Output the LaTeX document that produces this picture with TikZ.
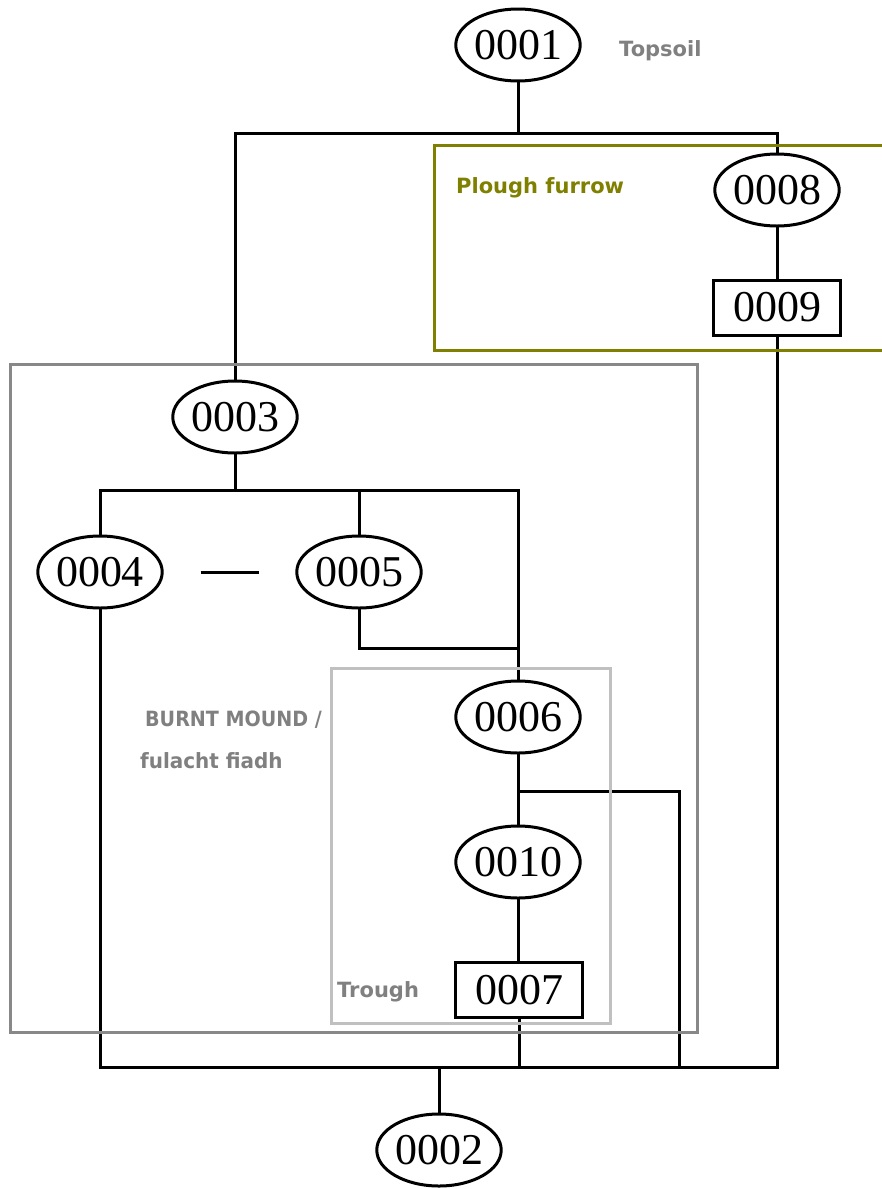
\documentclass[tikz,border=0pt]{standalone}
\usepackage{fontspec}
\setmainfont{Liberation Serif}
\newfontfamily\labfont{DejaVu Sans}
\usetikzlibrary{shapes.geometric}
\definecolor{olivebox}{RGB}{128,128,0}
\definecolor{labgray}{RGB}{128,128,128}
\definecolor{moundgray}{RGB}{136,136,136}
\definecolor{troughgray}{RGB}{192,192,192}
\begin{document}
\begin{tikzpicture}[x=1pt,y=-1pt,
  unitell/.style={draw, ellipse, line width=3pt, minimum width=120pt, minimum height=72pt, inner sep=0pt, font=\fontsize{44}{44}\selectfont},
  unitbox/.style={draw, rectangle, line width=3pt, minimum width=127pt, minimum height=55pt, inner sep=0pt, font=\fontsize{44}{44}\selectfont},
  conn/.style={line width=3pt, line cap=rect},
  grp/.style={line width=3pt},
  lab/.style={anchor=base west, inner sep=0pt, font=\labfont\bfseries\fontsize{21}{25}\selectfont}]
\fill[white] (0,0) rectangle (882,1189);
\useasboundingbox (0,0) rectangle (882,1189);

% units
\node[unitell] (n0001) at (518,45) {0001};
\node[unitell] (n0008) at (777,190) {0008};
\node[unitbox] (n0009) at (777,307.5) {0009};
\node[unitell] (n0003) at (235,417) {0003};
\node[unitell] (n0004) at (100,572) {0004};
\node[unitell] (n0005) at (359,572) {0005};
\node[unitell] (n0006) at (518,717) {0006};
\node[unitell] (n0010) at (518,862) {0010};
\node[unitbox] (n0007) at (519,990) {0007};
\node[unitell] (n0002) at (439,1150) {0002};

% junctions
\coordinate (j1) at (518,133);
\coordinate (j3) at (235,490);
\coordinate (j5) at (518,648);
\coordinate (j6) at (679,791);
\coordinate (jb) at (439,1067);

% connectors
\draw[conn] (n0001.south) -- (j1);
\draw[conn] (n0003.north) |- (j1) -| (n0008.north);
\draw[conn] (n0008.south) -- (n0009.north);
\draw[conn] (n0003.south) -- (j3);
\draw[conn] (n0004.north) |- (j3) -| (n0006.north);
\draw[conn] (n0005.north) -- (n0005.north |- j3);
\draw[conn] (n0005.south) |- (j5);
\draw[conn, line cap=butt, shorten <=37pt, shorten >=36pt] (n0004.east) -- (n0005.west);
\draw[conn] (n0006.south) -- (n0010.north);
\draw[conn] (n0006.south |- j6) -- (j6) -- (j6 |- jb);
\draw[conn] (n0010.south) -- (n0010.south |- n0007.north);
\draw[conn] (n0007.south) -- (n0007.south |- jb);
\draw[conn] (n0004.south) |- (n0009.south |- jb) -- (n0009.south);
\draw[conn] (n0002.north) -- (jb);

% group boxes
\draw[grp, olivebox] (890,145) -- (434,145) -- (434,350) -- (890,350);
\draw[grp, moundgray] (10,364) rectangle (697,1032);
\draw[grp, troughgray] (331,668) rectangle (610,1023);

% labels
\node[lab, labgray] (ltop) at (619,56) {Topsoil};
\node[lab, olivebox] (lplough) at (456,193) {Plough furrow};
\node[lab, labgray, transform shape, xscale=0.91] (lburnt) at (145,726) {BURNT MOUND /};
\node[lab, labgray, transform shape, xscale=0.95] (lful) at (140,768) {fulacht fiadh};
\node[lab, labgray] (ltrough) at (337,997) {Trough};
\end{tikzpicture}
\end{document}
